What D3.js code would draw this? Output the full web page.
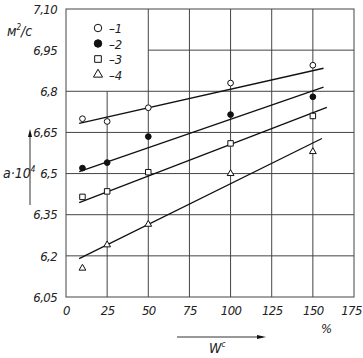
<!DOCTYPE html>
<html>
<head>
<meta charset="utf-8">
<script src="https://cdn.jsdelivr.net/npm/d3@7"></script>
<style>
  body { margin: 0; background: #fff; }
  text { font-family: "Liberation Sans Narrow", "DejaVu Sans Condensed", sans-serif; font-style: italic; fill: #222; }
</style>
</head>
<body>
<div id="chart"></div>
<script>
// W^c, %
const xValues = [10, 25, 50, 100, 150];
// a·10^4, м²/с for each series
const series1 = [6.70, 6.69, 6.74, 6.83, 6.895];
const series2 = [6.52, 6.54, 6.635, 6.715, 6.78];
const series3 = [6.415, 6.435, 6.505, 6.61, 6.71];
const series4 = [6.155, 6.24, 6.315, 6.50, 6.58];
// fitted lines: [x0, y0, x1, y1]
const fit1 = [8, 6.683, 156.5, 6.884];
const fit2 = [8, 6.507, 156.5, 6.815];
const fit3 = [8, 6.394, 158.5, 6.741];
const fit4 = [8, 6.19, 155.5, 6.628];

const xTicks = [0, 25, 50, 75, 100, 125, 150, 175];
const yTicks = [6.05, 6.2, 6.35, 6.5, 6.65, 6.8, 6.95, 7.10];
const yTickLabels = ["6,05", "6,2", "6,35", "6,5", "6,65", "6,8", "6,95", "7,10"];
const legendLabels = ["–1", "–2", "–3", "–4"];

const width = 363, height = 358;
const x = d3.scaleLinear().domain([0, 175]).range([66, 354]);
const y = d3.scaleLinear().domain([6.05, 7.10]).range([297, 9]);

const svg = d3.select("#chart").append("svg")
  .attr("width", width)
  .attr("height", height);

const grid = svg.append("g").attr("stroke", "#444").attr("stroke-width", 1);

// vertical grid lines (the 25 line stops under the legend)
grid.selectAll("line.v")
  .data(xTicks.filter(d => d > 0 && d < 175))
  .join("line")
  .attr("x1", d => x(d)).attr("x2", d => x(d))
  .attr("y1", d => d === 25 ? y(6.8) : y(7.10))
  .attr("y2", y(6.05));

// horizontal grid lines (the 6.95 line stops at the legend)
grid.selectAll("line.h")
  .data(yTicks.filter(d => d > 6.05 && d < 7.1))
  .join("line")
  .attr("x1", d => d === 6.95 ? x(50) : x(0))
  .attr("x2", x(175))
  .attr("y1", d => y(d)).attr("y2", d => y(d));

svg.append("rect")
  .attr("x", x(0)).attr("y", y(7.10))
  .attr("width", x(175) - x(0)).attr("height", y(6.05) - y(7.10))
  .attr("fill", "none").attr("stroke", "#444").attr("stroke-width", 1);

// axes (labels only)
const xAxis = svg.append("g")
  .attr("transform", `translate(0,${y(6.05)})`)
  .call(d3.axisBottom(x).tickValues(xTicks).tickSize(0).tickPadding(9))
  .call(g => g.select(".domain").remove());
xAxis.selectAll("text")
  .style("font-size", "13px").style("font-family", null)
  .style("letter-spacing", "-0.6px")
  .attr("dx", d => d === 175 ? -3 : 0);

const yAxis = svg.append("g")
  .attr("transform", `translate(${x(0)},0)`)
  .call(d3.axisLeft(y).tickValues(yTicks).tickSize(0).tickPadding(9)
    .tickFormat((d, i) => yTickLabels[i]))
  .call(g => g.select(".domain").remove());
yAxis.selectAll("text")
  .style("font-size", "13px").style("font-family", null)
  .style("letter-spacing", "-0.6px");

// fitted lines
const fits = [fit1, fit2, fit3, fit4];
svg.append("g").selectAll("line")
  .data(fits)
  .join("line")
  .attr("x1", d => x(d[0])).attr("y1", d => y(d[1]))
  .attr("x2", d => x(d[2])).attr("y2", d => y(d[3]))
  .attr("stroke", "#111").attr("stroke-width", 1.3);

// markers
const sym = [
  {type: d3.symbolCircle, size: 26, fill: "#fff"},
  {type: d3.symbolCircle, size: 26, fill: "#111"},
  {type: d3.symbolSquare, size: 30, fill: "#fff"},
  {type: d3.symbolTriangle, size: 20, fill: "#fff"}
];
const allSeries = [series1, series2, series3, series4];
allSeries.forEach((s, k) => {
  svg.append("g").selectAll("path")
    .data(s)
    .join("path")
    .attr("transform", (d, i) => `translate(${x(xValues[i])},${y(d)})`)
    .attr("d", d3.symbol(sym[k].type, sym[k].size))
    .attr("fill", sym[k].fill)
    .attr("stroke", "#111").attr("stroke-width", 1);
});

// legend
const legend = svg.append("g");
legendLabels.forEach((lab, k) => {
  const ly = 28 + k * 15.5;
  legend.append("path")
    .attr("transform", `translate(98,${ly})`)
    .attr("d", d3.symbol(sym[k].type, k === 3 ? 36 : 44))
    .attr("fill", sym[k].fill)
    .attr("stroke", "#111").attr("stroke-width", 1);
  legend.append("text")
    .attr("x", 109).attr("y", ly + 5)
    .style("font-size", "13px")
    .text(lab);
});

// unit label
const unit = svg.append("text").attr("x", 7).attr("y", 36).style("font-size", "14px");
unit.append("tspan").text("м");
unit.append("tspan").attr("dy", -6).style("font-size", "8px").text("2");
unit.append("tspan").attr("dy", 6).text("/с");

// y quantity label with arrow
const ylab = svg.append("text").attr("x", 3).attr("y", 178).style("font-size", "14px");
ylab.append("tspan").text("a·10");
ylab.append("tspan").attr("dy", -6).style("font-size", "8px").text("4");

const arrows = svg.append("g").attr("stroke", "#333").attr("stroke-width", 1);
arrows.append("line").attr("x1", 30).attr("x2", 30).attr("y1", 205).attr("y2", 134);
svg.append("path").attr("d", "M30,129 L28,137 L32,137 Z").attr("fill", "#111");

arrows.append("line").attr("x1", 177).attr("x2", 260).attr("y1", 337).attr("y2", 337);
svg.append("path").attr("d", "M266,337 L257,335 L257,339 Z").attr("fill", "#111");

// x quantity label
const xlab = svg.append("text").attr("x", 209).attr("y", 353).style("font-size", "14px");
xlab.append("tspan").text("W");
xlab.append("tspan").attr("dy", -6).style("font-size", "8px").text("c");

svg.append("text").attr("x", 321).attr("y", 333).style("font-size", "13px").text("%");
</script>
</body>
</html>
